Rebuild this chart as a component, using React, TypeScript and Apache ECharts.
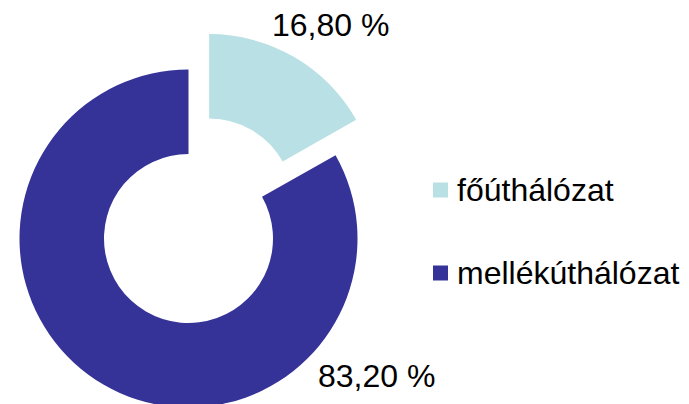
import React, { useEffect, useRef } from "react";
import * as echarts from "echarts";

const categories = ["főúthálózat", "mellékúthálózat"];
const values = [16.8, 83.2];
const colors = ["#b9e0e4", "#353398"];

export default function App() {
  const ref = useRef<HTMLDivElement>(null);
  useEffect(() => {
    if (!ref.current) return;
    const chart = echarts.init(ref.current, null, { renderer: "svg" });
    const cx = 188.5;
    const cy = 238.5;
    const explode = 41;
    const total = values[0] + values[1];
    const mid = ((90 - (360 * values[0]) / total / 2) * Math.PI) / 180;
    const ex = cx + explode * Math.cos(mid);
    const ey = cy - explode * Math.sin(mid);
    const labelPos = [
      { x: 272, y: 25 },
      { x: 318, y: 376 },
    ];
    const font = "Liberation Sans, Arial, sans-serif";
    const makeSeries = (visibleIndex: number, center: number[]) => ({
      type: "pie",
      center,
      radius: [84.5, 169],
      startAngle: 90,
      clockwise: true,
      emphasis: { disabled: true },
      label: {
        show: true,
        position: "outside",
        overflow: "none",
        fontFamily: font,
        fontSize: 32,
        color: "#000",
        formatter: (p: any) => p.value.toFixed(2).replace(".", ",") + " %",
      },
      labelLine: { show: false },
      labelLayout: () => ({
        x: labelPos[visibleIndex].x,
        y: labelPos[visibleIndex].y,
        align: "left",
        verticalAlign: "middle",
      }),
      data: categories.map((name, i) =>
        i === visibleIndex
          ? { name, value: values[i], itemStyle: { color: colors[i] } }
          : {
              name: "_hidden" + i,
              value: values[i],
              itemStyle: { color: "rgba(0,0,0,0)" },
              label: { show: false },
            }
      ),
    });
    chart.setOption({
      animation: false,
      legend: {
        orient: "vertical",
        left: 433,
        top: 174,
        padding: 0,
        itemWidth: 15,
        itemHeight: 15,
        itemGap: 51,
        icon: "rect",
        data: categories,
        selectedMode: false,
        textStyle: {
          fontFamily: font,
          fontSize: 32,
          lineHeight: 32,
          color: "#000",
          padding: [0, 0, 0, 4],
        },
      },
      series: [makeSeries(0, [ex, ey]), makeSeries(1, [cx, cy])],
    });
    return () => chart.dispose();
  }, []);
  return (
    <div
      ref={ref}
      style={{ position: "fixed", left: 0, top: 0, width: 689, height: 404, background: "#fff" }}
    />
  );
}
